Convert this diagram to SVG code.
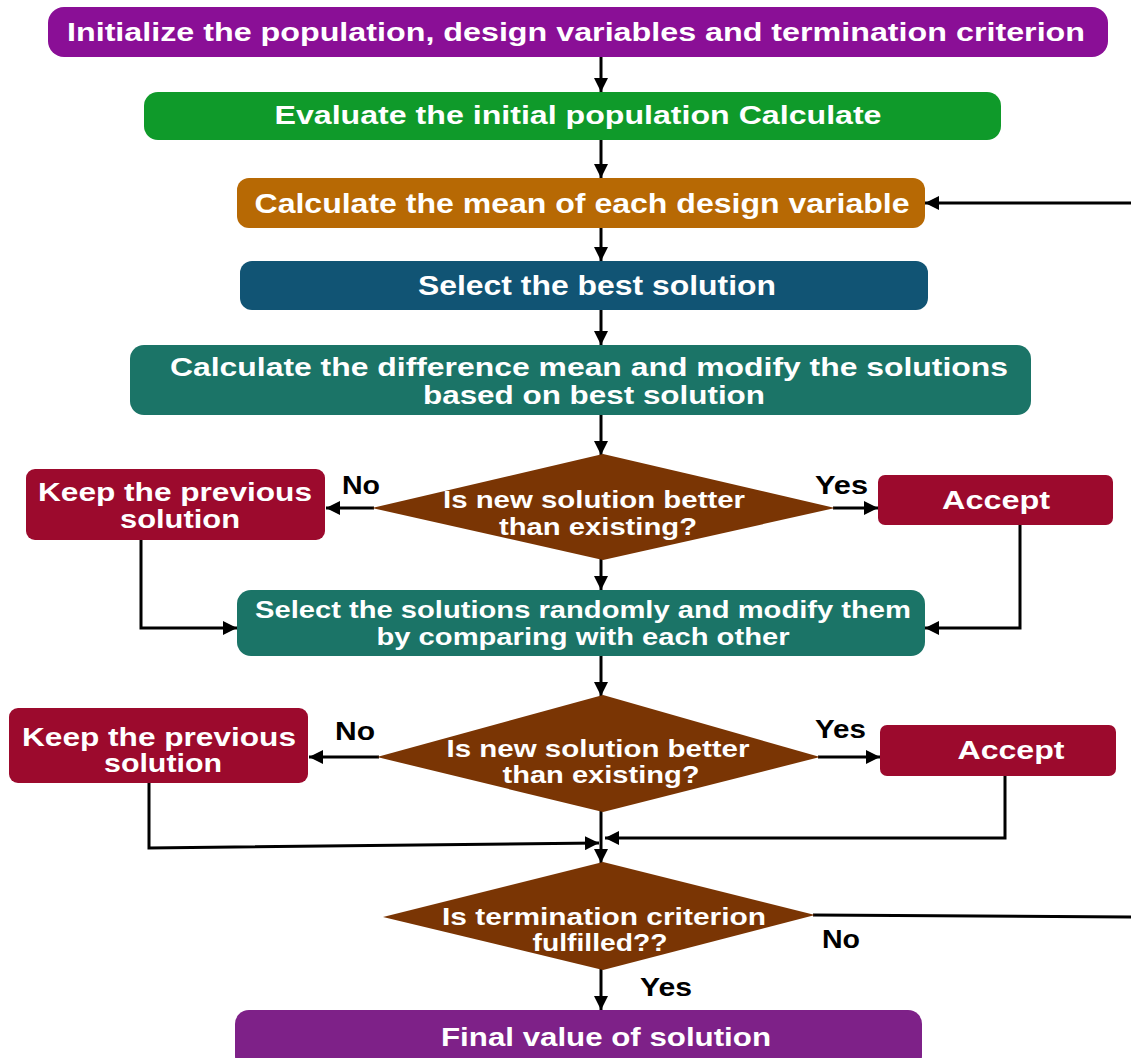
<svg xmlns="http://www.w3.org/2000/svg" width="1131" height="1058" viewBox="0 0 1131 1058">
  <style>
    .t { font-family: "Liberation Sans", Arial, sans-serif; font-weight: bold; fill: #ffffff; text-anchor: middle; }
    .lbl { font-family: "Liberation Sans", Arial, sans-serif; font-weight: bold; fill: #000000; font-size: 25px; }
    .wire { fill: none; stroke: #000000; stroke-width: 3; }
    .dia { fill: #7a3504; }
    .rej { fill: #9c0a2d; }
  </style>
  <defs>
    <marker id="arrow" viewBox="0 0 10 10" refX="10" refY="5" markerUnits="userSpaceOnUse" markerWidth="14" markerHeight="14" orient="auto">
      <path d="M0,0 L10,5 L0,10 Z" fill="#000000"/>
    </marker>
  </defs>

  <rect width="1131" height="1058" fill="#ffffff"/>

  <!-- connectors -->
  <g id="connectors">
    <line class="wire" x1="601" y1="57" x2="601" y2="92" marker-end="url(#arrow)"/>
    <line class="wire" x1="601" y1="140" x2="601" y2="178" marker-end="url(#arrow)"/>
    <line class="wire" x1="601" y1="228" x2="601" y2="261" marker-end="url(#arrow)"/>
    <line class="wire" x1="601" y1="310" x2="601" y2="345" marker-end="url(#arrow)"/>
    <line class="wire" x1="601" y1="415" x2="601" y2="455" marker-end="url(#arrow)"/>
    <line class="wire" x1="601" y1="559" x2="601" y2="590" marker-end="url(#arrow)"/>
    <line class="wire" x1="601" y1="656" x2="601" y2="696" marker-end="url(#arrow)"/>
    <line class="wire" x1="374" y1="508" x2="326" y2="508" marker-end="url(#arrow)"/>
    <line class="wire" x1="833" y1="508" x2="878" y2="508" marker-end="url(#arrow)"/>
    <polyline class="wire" points="141,540 141,628 237,628" marker-end="url(#arrow)"/>
    <polyline class="wire" points="1020,525 1020,628 925,628" marker-end="url(#arrow)"/>
    <line class="wire" x1="379" y1="757" x2="309" y2="757" marker-end="url(#arrow)"/>
    <line class="wire" x1="818" y1="757" x2="880" y2="757" marker-end="url(#arrow)"/>
    <polyline class="wire" points="149,783 149,848 599,843" marker-end="url(#arrow)"/>
    <polyline class="wire" stroke="#333333" points="1005,776 1005,838 605,838" marker-end="url(#arrow)"/>
    <line class="wire" x1="601" y1="811" x2="601" y2="863" marker-end="url(#arrow)"/>
    <line class="wire" x1="813" y1="915" x2="1131" y2="917"/>
    <line class="wire" x1="1131" y1="203" x2="925" y2="203" marker-end="url(#arrow)"/>
    <line class="wire" x1="601" y1="968" x2="601" y2="1010" marker-end="url(#arrow)"/>
  </g>

  <!-- connector labels -->
  <g id="labels">
    <text class="lbl" x="342" y="494" textLength="38" lengthAdjust="spacingAndGlyphs">No</text>
    <text class="lbl" x="815" y="494" textLength="53" lengthAdjust="spacingAndGlyphs">Yes</text>
    <text class="lbl" x="335" y="740" textLength="40" lengthAdjust="spacingAndGlyphs">No</text>
    <text class="lbl" x="815" y="738" textLength="51" lengthAdjust="spacingAndGlyphs">Yes</text>
    <text class="lbl" x="822" y="948" textLength="38" lengthAdjust="spacingAndGlyphs">No</text>
    <text class="lbl" x="640" y="996" textLength="52" lengthAdjust="spacingAndGlyphs">Yes</text>
  </g>

  <g id="init">
    <rect x="48" y="7" width="1060" height="50" rx="16" fill="#8a0f96"/>
    <text class="t" x="576" y="41" font-size="26" textLength="1018" lengthAdjust="spacingAndGlyphs">Initialize the population, design variables and termination criterion</text>
  </g>

  <g id="evaluate">
    <rect x="144" y="92" width="857" height="48" rx="14" fill="#0f9a2a"/>
    <text class="t" x="578" y="124" font-size="26" textLength="607" lengthAdjust="spacingAndGlyphs">Evaluate the initial population Calculate</text>
  </g>

  <g id="mean">
    <rect x="237" y="178" width="688" height="50" rx="12" fill="#b76904"/>
    <text class="t" x="582" y="213" font-size="27" textLength="655" lengthAdjust="spacingAndGlyphs">Calculate the mean of each design variable</text>
  </g>

  <g id="best">
    <rect x="240" y="261" width="688" height="49" rx="12" fill="#115474"/>
    <text class="t" x="597" y="295" font-size="27" textLength="358" lengthAdjust="spacingAndGlyphs">Select the best solution</text>
  </g>

  <g id="difference">
    <rect x="130" y="345" width="901" height="70" rx="14" fill="#1b7467"/>
    <text class="t" x="589" y="376" font-size="25" textLength="838" lengthAdjust="spacingAndGlyphs">Calculate the difference mean and modify the solutions</text>
    <text class="t" x="594" y="404" font-size="25" textLength="342" lengthAdjust="spacingAndGlyphs">based on best solution</text>
  </g>

  <g id="decision1">
    <polygon class="dia" points="603,454 835,508 603,560 372,508"/>
    <text class="t" x="594" y="508" font-size="24" textLength="302" lengthAdjust="spacingAndGlyphs">Is new solution better</text>
    <text class="t" x="598" y="535" font-size="24" textLength="198" lengthAdjust="spacingAndGlyphs">than existing?</text>
  </g>

  <g id="keep1">
    <rect class="rej" x="26" y="469" width="299" height="71" rx="9"/>
    <text class="t" x="175" y="501" font-size="25" textLength="274" lengthAdjust="spacingAndGlyphs">Keep the previous</text>
    <text class="t" x="180" y="528" font-size="25" textLength="120" lengthAdjust="spacingAndGlyphs">solution</text>
  </g>

  <g id="accept1">
    <rect class="rej" x="878" y="475" width="235" height="50" rx="7"/>
    <text class="t" x="996" y="509" font-size="25" textLength="108" lengthAdjust="spacingAndGlyphs">Accept</text>
  </g>

  <g id="random">
    <rect x="237" y="590" width="688" height="66" rx="14" fill="#1b7467"/>
    <text class="t" x="583" y="618" font-size="24" textLength="656" lengthAdjust="spacingAndGlyphs">Select the solutions randomly and modify them</text>
    <text class="t" x="583" y="645" font-size="24" textLength="413" lengthAdjust="spacingAndGlyphs">by comparing with each other</text>
  </g>

  <g id="decision2">
    <polygon class="dia" points="603,695 820,757 603,812 377,757"/>
    <text class="t" x="598" y="757" font-size="24" textLength="303" lengthAdjust="spacingAndGlyphs">Is new solution better</text>
    <text class="t" x="601" y="783" font-size="24" textLength="197" lengthAdjust="spacingAndGlyphs">than existing?</text>
  </g>

  <g id="keep2">
    <rect class="rej" x="9" y="708" width="299" height="75" rx="9"/>
    <text class="t" x="159" y="746" font-size="25" textLength="274" lengthAdjust="spacingAndGlyphs">Keep the previous</text>
    <text class="t" x="163" y="772" font-size="25" textLength="118" lengthAdjust="spacingAndGlyphs">solution</text>
  </g>

  <g id="accept2">
    <rect class="rej" x="880" y="725" width="236" height="51" rx="7"/>
    <text class="t" x="1011" y="759" font-size="25" textLength="107" lengthAdjust="spacingAndGlyphs">Accept</text>
  </g>

  <g id="decision3">
    <polygon class="dia" points="603,862 815,915 603,970 383,917"/>
    <text class="t" x="604" y="925" font-size="24" textLength="324" lengthAdjust="spacingAndGlyphs">Is termination criterion</text>
    <text class="t" x="600" y="951" font-size="24" textLength="135" lengthAdjust="spacingAndGlyphs">fulfilled??</text>
  </g>

  <g id="final">
    <rect x="235" y="1010" width="687" height="60" rx="14" fill="#7e2188"/>
    <text class="t" x="606" y="1046" font-size="26" textLength="330" lengthAdjust="spacingAndGlyphs">Final value of solution</text>
  </g>
</svg>
